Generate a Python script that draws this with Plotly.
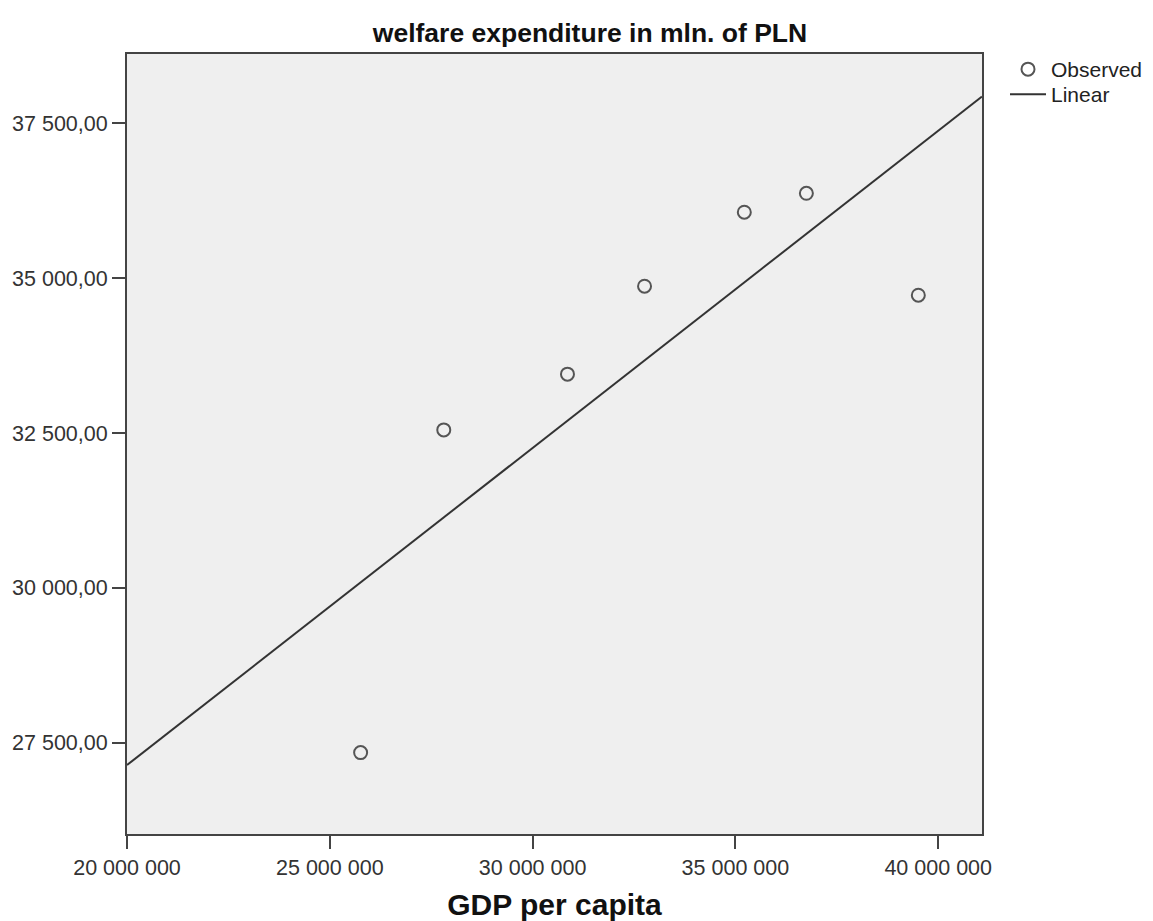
import numpy as np
import plotly.graph_objects as go

# Data
gdp_per_capita = [25760000, 27810000, 30860000, 32760000, 35220000, 36750000, 39510000]
welfare_expenditure = [27340, 32550, 33450, 34870, 36065, 36370, 34725]

x_tick_vals = [20000000, 25000000, 30000000, 35000000, 40000000]
x_tick_text = ["20 000 000", "25 000 000", "30 000 000", "35 000 000", "40 000 000"]
y_tick_vals = [27500, 30000, 32500, 35000, 37500]
y_tick_text = ["27 500,00", "30 000,00", "32 500,00", "35 000,00", "37 500,00"]

x_range = [20000000, 41080000]
y_range = [26026, 38619]

# Linear fit
slope, intercept = np.polyfit(gdp_per_capita, welfare_expenditure, 1)
fit_x = np.array(x_range)
fit_y = slope * fit_x + intercept

fig = go.Figure()
fig.add_trace(go.Scatter(
    x=gdp_per_capita, y=welfare_expenditure, mode="markers", name="Observed",
    marker=dict(symbol="circle-open", size=13, color="#555555", line=dict(width=2, color="#555555")),
    legend="legend",
))
fig.add_trace(go.Scatter(
    x=fit_x, y=fit_y, mode="lines", name="Linear",
    line=dict(color="#333333", width=2),
    legend="legend2",
))

W, H = 1153, 921
ml, mr, mt, mb = 127, 171, 54, 87
pw = W - ml - mr
ph = H - mt - mb

legend_common = dict(
    xanchor="left", yanchor="top", xref="paper", yref="paper",
    bgcolor="rgba(0,0,0,0)",
    font=dict(size=21, color="#222222"),
    itemwidth=36,
)

fig.update_layout(
    width=W, height=H,
    margin=dict(l=ml, r=mr, t=mt, b=mb, autoexpand=False),
    paper_bgcolor="white",
    plot_bgcolor="#efefef",
    font=dict(family="Liberation Sans, Arial, sans-serif", color="#333333", size=21),
    title=dict(
        text="<b>welfare expenditure in mln. of PLN</b>",
        x=590 / W, xanchor="center", xref="container",
        y=1 - 33 / H, yanchor="middle", yref="container",
        font=dict(size=26.5, color="#111111", family="Liberation Sans, Arial, sans-serif"),
    ),
    showlegend=True,
    legend=dict(x=(1005 - ml) / pw, y=1 - (49 - mt) / ph, **legend_common),
    legend2=dict(x=(1005 - ml) / pw, y=1 - (74 - mt) / ph, **legend_common),
    xaxis=dict(
        range=x_range, tickmode="array", tickvals=x_tick_vals, ticktext=x_tick_text,
        showgrid=False, zeroline=False,
        showline=True, linecolor="#444444", linewidth=2, mirror=True,
        ticks="outside", ticklen=13, tickwidth=2, tickcolor="#444444",
        tickfont=dict(size=21.5, color="#333333"),
        title=dict(text="<b>GDP per capita</b>", standoff=17,
                   font=dict(size=30, color="#111111")),
    ),
    yaxis=dict(
        range=y_range, tickmode="array", tickvals=y_tick_vals, ticktext=y_tick_text,
        showgrid=False, zeroline=False,
        showline=True, linecolor="#444444", linewidth=2, mirror=True,
        ticks="outside", ticklen=13, tickwidth=2, tickcolor="#444444",
        tickfont=dict(size=21.5, color="#333333"),
    ),
)

fig.write_html("out.html")
